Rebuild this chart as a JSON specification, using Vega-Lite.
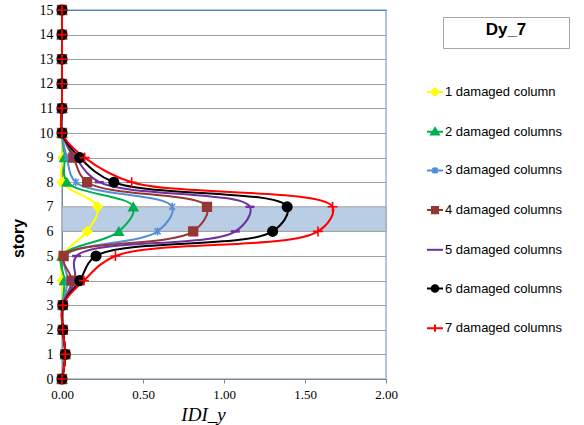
{
  "$schema": "https://vega.github.io/schema/vega-lite/v6.json",
  "width": 324,
  "height": 369,
  "autosize": "none",
  "padding": {"left": 62, "top": 10, "right": 198, "bottom": 46},
  "background": "white",
  "view": {"stroke": "#95b3d7", "strokeWidth": 1.5},
  "datasets": {
    "band": [{"x": 0, "x2": 2, "story": 6, "story2": 7, "tag": "Dy_7"}],
    "curves": [
      {"s":1,"story":0,"x":0},{"s":1,"story":1,"x":0.02},{"s":1,"story":2,"x":0.005},{"s":1,"story":3,"x":0.005},{"s":1,"story":4,"x":0},{"s":1,"story":5,"x":0},{"s":1,"story":6,"x":0.155},{"s":1,"story":7,"x":0.22},{"s":1,"story":8,"x":0},{"s":1,"story":9,"x":0.005},{"s":1,"story":10,"x":0},{"s":1,"story":11,"x":0},{"s":1,"story":12,"x":0},{"s":1,"story":13,"x":0},{"s":1,"story":14,"x":0},{"s":1,"story":15,"x":0},
      {"s":2,"story":0,"x":0},{"s":2,"story":1,"x":0.02},{"s":2,"story":2,"x":0.005},{"s":2,"story":3,"x":0.005},{"s":2,"story":4,"x":0.015},{"s":2,"story":5,"x":0},{"s":2,"story":6,"x":0.35},{"s":2,"story":7,"x":0.44},{"s":2,"story":8,"x":0.03},{"s":2,"story":9,"x":0.015},{"s":2,"story":10,"x":0},{"s":2,"story":11,"x":0},{"s":2,"story":12,"x":0},{"s":2,"story":13,"x":0},{"s":2,"story":14,"x":0},{"s":2,"story":15,"x":0},
      {"s":3,"story":0,"x":0},{"s":3,"story":1,"x":0.02},{"s":3,"story":2,"x":0.005},{"s":3,"story":3,"x":0.005},{"s":3,"story":4,"x":0.035},{"s":3,"story":5,"x":0.02},{"s":3,"story":6,"x":0.59},{"s":3,"story":7,"x":0.68},{"s":3,"story":8,"x":0.085},{"s":3,"story":9,"x":0.03},{"s":3,"story":10,"x":0},{"s":3,"story":11,"x":0},{"s":3,"story":12,"x":0},{"s":3,"story":13,"x":0},{"s":3,"story":14,"x":0},{"s":3,"story":15,"x":0},
      {"s":4,"story":0,"x":0},{"s":4,"story":1,"x":0.02},{"s":4,"story":2,"x":0.005},{"s":4,"story":3,"x":0.005},{"s":4,"story":4,"x":0.06},{"s":4,"story":5,"x":0.01},{"s":4,"story":6,"x":0.81},{"s":4,"story":7,"x":0.895},{"s":4,"story":8,"x":0.155},{"s":4,"story":9,"x":0.07},{"s":4,"story":10,"x":0},{"s":4,"story":11,"x":0},{"s":4,"story":12,"x":0},{"s":4,"story":13,"x":0},{"s":4,"story":14,"x":0},{"s":4,"story":15,"x":0},
      {"s":5,"story":0,"x":0},{"s":5,"story":1,"x":0.02},{"s":5,"story":2,"x":0.005},{"s":5,"story":3,"x":0.005},{"s":5,"story":4,"x":0.08},{"s":5,"story":5,"x":0.09},{"s":5,"story":6,"x":1.07},{"s":5,"story":7,"x":1.16},{"s":5,"story":8,"x":0.23},{"s":5,"story":9,"x":0.085},{"s":5,"story":10,"x":0},{"s":5,"story":11,"x":0},{"s":5,"story":12,"x":0},{"s":5,"story":13,"x":0},{"s":5,"story":14,"x":0},{"s":5,"story":15,"x":0},
      {"s":6,"story":0,"x":0},{"s":6,"story":1,"x":0.02},{"s":6,"story":2,"x":0.005},{"s":6,"story":3,"x":0.005},{"s":6,"story":4,"x":0.11},{"s":6,"story":5,"x":0.21},{"s":6,"story":6,"x":1.3},{"s":6,"story":7,"x":1.39},{"s":6,"story":8,"x":0.32},{"s":6,"story":9,"x":0.11},{"s":6,"story":10,"x":0},{"s":6,"story":11,"x":0},{"s":6,"story":12,"x":0},{"s":6,"story":13,"x":0},{"s":6,"story":14,"x":0},{"s":6,"story":15,"x":0},
      {"s":7,"story":0,"x":0},{"s":7,"story":1,"x":0.02},{"s":7,"story":2,"x":0.005},{"s":7,"story":3,"x":0.005},{"s":7,"story":4,"x":0.135},{"s":7,"story":5,"x":0.33},{"s":7,"story":6,"x":1.58},{"s":7,"story":7,"x":1.67},{"s":7,"story":8,"x":0.43},{"s":7,"story":9,"x":0.14},{"s":7,"story":10,"x":0},{"s":7,"story":11,"x":0},{"s":7,"story":12,"x":0},{"s":7,"story":13,"x":0},{"s":7,"story":14,"x":0},{"s":7,"story":15,"x":0}
    ]
  },
  "config": {
    "axis": {"labelFont": "Liberation Serif, Times New Roman, serif", "labelColor": "#000", "domainColor": "#868686", "domainWidth": 1},
    "legend": {"labelFont": "Liberation Sans", "labelFontSize": 13, "labelColor": "#000"},
    "point": {"size": 85, "opacity": 1, "strokeWidth": 1.6, "filled": true}
  },
  "encoding": {
    "x": {"field": "x", "type": "quantitative", "scale": {"domain": [0, 2], "nice": false},
      "axis": {"values": [0, 0.5, 1, 1.5, 2], "format": ".2f", "grid": false, "title": "IDI_y", "labelFlush": false, "labelOverlap": false,
        "titleFont": "Liberation Serif, Times New Roman, serif", "titleFontStyle": "italic", "titleFontWeight": "normal", "titleFontSize": 19, "titleColor": "#000",
        "titleX": 141, "titleAlign": "center",
        "labelFontSize": 13, "tickSize": 4, "tickColor": "#868686", "labelPadding": 5, "titlePadding": 4}},
    "y": {"field": "story", "type": "quantitative", "scale": {"domain": [0, 15], "nice": false},
      "axis": {"values": [0,1,2,3,4,5,6,7,8,9,10,11,12,13,14,15], "format": "d", "grid": true, "labelOverlap": false, "labelFlush": false,
        "gridColor": {"condition": {"test": "datum.value == 15", "value": "#4f81bd"}, "value": "#a0a0a0"},
        "gridWidth": 1.2, "ticks": false, "labelPadding": 9, "labelFontSize": 14,
        "title": "story", "titleFont": "Liberation Sans", "titleFontWeight": "bold", "titleFontSize": 16, "titleColor": "#000",
        "titleX": -36, "titleY": 228, "titleAlign": "center"}}
  },
  "layer": [
    {
      "data": {"name": "band"},
      "mark": {"type": "rect", "fill": "#b9cde5", "stroke": "#a0a0a0", "strokeWidth": 1},
      "encoding": {
        "x2": {"field": "x2"},
        "y2": {"field": "story2"},
        "opacity": {"field": "tag", "type": "nominal", "scale": {"range": [1]},
          "legend": {"orient": "none", "legendX": 381, "legendY": 7, "title": "Dy_7", "titleFont": "Liberation Sans", "titleFontSize": 17, "titleFontWeight": "bold", "titleColor": "#000",
            "titleAnchor": "middle", "titlePadding": 0, "symbolSize": 0, "symbolOpacity": 0, "labelExpr": "''", "labelOffset": 114, "labelFontSize": 1,
            "padding": 5, "strokeColor": "#a6a6a6"}}
      }
    },
    {
      "data": {"name": "curves"},
      "mark": {"type": "line", "interpolate": "catmull-rom", "strokeWidth": 2},
      "encoding": {
        "order": {"field": "story", "type": "quantitative"},
        "stroke": {"field": "s", "type": "nominal",
          "scale": {"domain": [1,2,3,4,5,6,7], "range": ["#ffff00","#00b050","#558ed5","#953735","#7030a0","#000000","#ff0000"]},
          "legend": {"orient": "none", "legendX": 364, "legendY": 73, "title": null, "padding": 0,
            "symbolSize": 256, "symbolStrokeWidth": 2, "symbolOpacity": 1, "rowPadding": 22.7, "labelOffset": 1,
            "labelExpr": "datum.label == '1' ? '1 damaged column' : datum.label + ' damaged columns'",
            "encode": {"symbols": {"update": {
              "fill": {"scale": "stroke", "field": "value"},
              "shape": {"signal": "['M-1,0H1M0,-0.45L0.45,0L0,0.45L-0.45,0Z','M-1,0H1M0,-0.45L0.48,0.35L-0.48,0.35Z','M-1,0H1M-0.32,-0.32L0.32,0.32M-0.32,0.32L0.32,-0.32M0,-0.4V0.4','M-1,0H1M-0.38,-0.38H0.38V0.38H-0.38Z','M-1,0H1','M-1,0H1M-0.42,0A0.42,0.42,0,1,0,0.42,0A0.42,0.42,0,1,0,-0.42,0Z','M-1,0H1M0,-0.45V0.45'][datum.value - 1]"}}}}}}
      }
    },
    {"data": {"name": "curves"}, "transform": [{"filter": "datum.s == 1"}],
     "mark": {"type": "point", "shape": "diamond", "fill": "#ffff00", "stroke": "#ffff00", "size": 80}},
    {"data": {"name": "curves"}, "transform": [{"filter": "datum.s == 2"}],
     "mark": {"type": "point", "shape": "triangle-up", "fill": "#00b050", "stroke": "#00b050", "size": 80}},
    {"data": {"name": "curves"}, "transform": [{"filter": "datum.s == 3"}],
     "mark": {"type": "point", "shape": "M-0.75,-0.75L0.75,0.75M-0.75,0.75L0.75,-0.75M0,-1V1", "fill": "#558ed5", "stroke": "#558ed5", "size": 64}},
    {"data": {"name": "curves"}, "transform": [{"filter": "datum.s == 4"}],
     "mark": {"type": "point", "shape": "square", "fill": "#953735", "stroke": "#953735", "size": 75}},
    {"data": {"name": "curves"}, "transform": [{"filter": "datum.s == 5"}],
     "mark": {"type": "point", "shape": "M-1,0H1", "fill": "#7030a0", "stroke": "#7030a0", "strokeWidth": 2.5, "size": 80}},
    {"data": {"name": "curves"}, "transform": [{"filter": "datum.s == 6"}],
     "mark": {"type": "point", "shape": "circle", "fill": "#000000", "stroke": "#000000", "size": 90}},
    {"data": {"name": "curves"}, "transform": [{"filter": "datum.s == 7"}],
     "mark": {"type": "point", "shape": "M-1,0H1M0,-1V1", "fill": "#ff0000", "stroke": "#ff0000", "size": 100}}
  ]
}
